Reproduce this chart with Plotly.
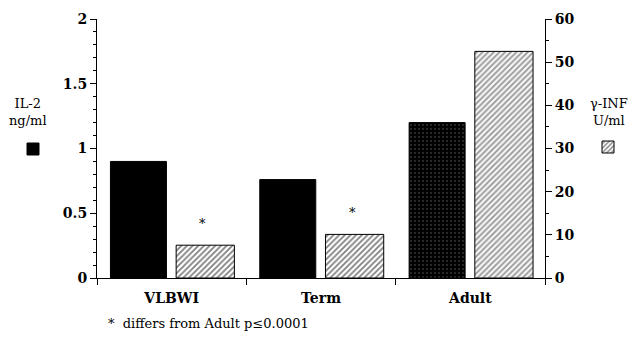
import plotly.graph_objects as go

categories = ["VLBWI", "Term", "Adult"]
il2_values = [0.90, 0.76, 1.20]          # ng/ml, left axis
ifn_values = [7.6, 10.1, 52.5]           # U/ml, right axis
significance = ["*", "*", ""]
footnote = "*  differs from Adult p\u22640.0001"

FONT = "DejaVu Serif"
BLACK_OFF, BLACK_W = -0.41, 0.375
HATCH_OFF, HATCH_W = 0.03, 0.39
# the page body has an 8px margin, so the figure is drawn 8px in from the window edge
W, H = 629, 330
PL, PT, PW, PH = 89, 11, 448, 259   # plot area in figure pixels


def px(xp):   # figure pixel x -> paper coordinate
    return (xp - PL) / PW


def py(yp):   # figure pixel y -> paper coordinate
    return (PT + PH - yp) / PH


fig = go.Figure()

# IL-2 bars (neonatal groups solid black, adult stippled)
fig.add_trace(go.Bar(
    x=categories[:2], y=il2_values[:2], name="", yaxis="y",
    offset=BLACK_OFF, width=BLACK_W,
    marker=dict(color="black", line=dict(color="black", width=1)),
    legend="legend", showlegend=True,
))
fig.add_trace(go.Bar(
    x=categories[2:], y=il2_values[2:], name="", yaxis="y",
    offset=BLACK_OFF, width=BLACK_W,
    marker=dict(color="black", line=dict(color="black", width=1),
                pattern=dict(shape=".", fgcolor="#bbbbbb", bgcolor="black",
                             size=4, solidity=0.12)),
    showlegend=False,
))
# gamma-INF bars (hatched)
fig.add_trace(go.Bar(
    x=categories[:2], y=ifn_values[:2], name="", yaxis="y2",
    offset=HATCH_OFF, width=HATCH_W,
    marker=dict(color="white", line=dict(color="black", width=1),
                pattern=dict(shape="/", fgcolor="black", bgcolor="white",
                             size=4, solidity=0.45)),
    legend="legend2", showlegend=True,
))
fig.add_trace(go.Bar(
    x=categories[2:], y=ifn_values[2:], name="", yaxis="y2",
    offset=HATCH_OFF, width=HATCH_W,
    marker=dict(color="white", line=dict(color="black", width=1),
                pattern=dict(shape="/", fgcolor="#333333", bgcolor="#f4f4f4",
                             size=4, solidity=0.4)),
    showlegend=False,
))

# significance markers above hatched bars
for cat, val, mark in zip(categories, ifn_values, significance):
    if mark:
        fig.add_annotation(x=cat, y=val, yref="y2", text=mark, showarrow=False,
                           xshift=31, yshift=22, yanchor="middle", xanchor="center",
                           font=dict(family=FONT, size=13, color="black"))

# axis titles / legend labels
fig.add_annotation(xref="paper", yref="paper", x=px(28 - 8), y=py(112 - 8),
                   xanchor="center", yanchor="middle",
                   text="IL-2<br>ng/ml", showarrow=False, align="center",
                   font=dict(family=FONT, size=13, color="black"))
fig.add_annotation(xref="paper", yref="paper", x=px(609 - 8), y=py(112 - 8),
                   xanchor="center", yanchor="middle",
                   text="\u03b3-INF<br>U/ml", showarrow=False, align="center",
                   font=dict(family=FONT, size=13, color="black"))
fig.add_annotation(xref="paper", yref="paper", x=px(106 - 8), y=py(323 - 8),
                   xanchor="left", yanchor="middle", text=footnote, showarrow=False,
                   font=dict(family=FONT, size=13, color="black"))

axis_font = dict(family=FONT, size=14, color="black", weight="bold")
fig.update_layout(
    width=W, height=H,
    margin=dict(l=PL, r=W - PL - PW, t=PT, b=H - PT - PH, autoexpand=False),
    paper_bgcolor="white", plot_bgcolor="white",
    barmode="overlay",
    font=dict(family=FONT, size=14, color="black"),
    xaxis=dict(type="category", categoryorder="array", categoryarray=categories,
               range=[-0.5, 2.5], showline=True, linecolor="black", linewidth=1,
               ticks="outside", tickson="boundaries", ticklen=6, tickcolor="black",
               ticklabelstandoff=7,
               showgrid=False, zeroline=False, tickfont=axis_font),
    yaxis=dict(range=[0, 2], dtick=0.5, showline=True, linecolor="black", linewidth=1,
               ticks="outside", ticklen=6, tickcolor="black", showgrid=False,
               zeroline=False, tickfont=axis_font,
               minor=dict(dtick=0.1, ticks="outside", ticklen=3, tickcolor="black",
                          showgrid=False)),
    yaxis2=dict(range=[0, 60], dtick=10, overlaying="y", side="right", anchor="x",
                showline=True, linecolor="black", linewidth=1,
                ticks="outside", ticklen=6, tickcolor="black", showgrid=False,
                zeroline=False, tickfont=axis_font,
                minor=dict(dtick=5, ticks="outside", ticklen=3, tickcolor="black",
                           showgrid=False)),
    legend=dict(xref="container", yref="container", x=5 / W, y=1 - 141 / H,
                xanchor="left", yanchor="middle",
                bgcolor="rgba(0,0,0,0)", itemwidth=30, font=dict(size=1)),
    legend2=dict(xref="container", yref="container", x=580 / W, y=1 - 139 / H,
                 xanchor="left", yanchor="middle",
                 bgcolor="rgba(0,0,0,0)", itemwidth=30, font=dict(size=1)),
)

fig.write_html("out.html")
